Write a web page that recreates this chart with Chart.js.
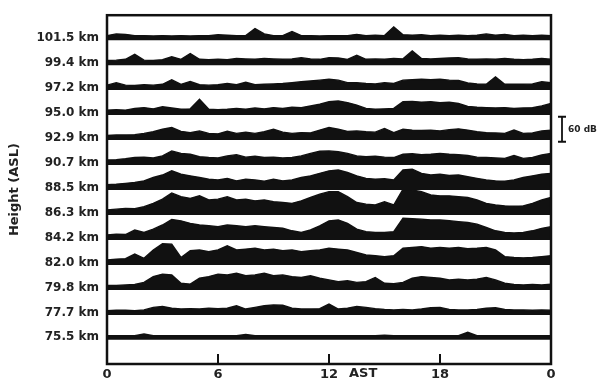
<!DOCTYPE html>
<html>
<head>
<meta charset="utf-8">
<script src="https://cdn.jsdelivr.net/npm/chart.js@4.4.1/dist/chart.umd.min.js"></script>
<style>
    body { margin: 0; background: #fff; }
    canvas { display: block; }
</style>
</head>
<body>
<canvas id="graficaEcos" width="616" height="382"></canvas>
<script>
"use strict";
/* Datos: horas (AST) y potencia de eco (dB sobre la línea base) */
const horas = [0, 0.5, 1, 1.5, 2, 2.5, 3, 3.5, 4, 4.5, 5, 5.5, 6, 6.5, 7, 7.5, 8, 8.5, 9, 9.5,
    10, 10.5, 11, 11.5, 12, 12.5, 13, 13.5, 14, 14.5, 15, 15.5, 16, 16.5, 17, 17.5, 18, 18.5, 19, 19.5,
    20, 20.5, 21, 21.5, 22, 22.5, 23, 23.5, 24];

const etiquetasAltura = ["101.5 km", "99.4 km", "97.2 km", "95.0 km", "92.9 km", "90.7 km", "88.5 km",
    "86.3 km", "84.2 km", "82.0 km", "79.8 km", "77.7 km", "75.5 km"];

const valoresHora = [0, 6, 12, 18, 24];
const etiquetasHora = ["0", "6", "12", "18", "0"];

const eco1015 = [5, 9, 8, 5, 5, 4, 5, 4, 5, 4, 5, 5, 7, 6, 5, 5, 22, 9, 5, 5, 15, 5, 5, 4, 5, 5, 5, 8, 5, 6, 5, 26, 7, 6, 7, 5, 6, 5, 6, 5, 6, 9, 6, 8, 5, 6, 5, 6, 5];
const eco994 = [5, 6, 8, 20, 6, 5, 7, 14, 8, 22, 8, 7, 8, 7, 10, 9, 8, 10, 9, 8, 9, 12, 9, 8, 12, 11, 8, 18, 8, 9, 8, 10, 9, 28, 10, 9, 10, 11, 12, 9, 8, 9, 8, 10, 8, 7, 8, 10, 8];
const eco972 = [6, 12, 6, 5, 7, 6, 8, 19, 8, 15, 7, 6, 7, 10, 7, 13, 7, 8, 9, 10, 12, 14, 16, 18, 20, 18, 12, 12, 10, 9, 12, 10, 18, 19, 20, 19, 20, 18, 17, 11, 9, 8, 26, 8, 8, 8, 9, 14, 12];
const eco950 = [6, 7, 6, 10, 12, 9, 14, 11, 8, 9, 32, 8, 7, 8, 10, 8, 11, 9, 12, 10, 13, 12, 16, 20, 26, 28, 24, 18, 10, 8, 9, 10, 26, 27, 25, 26, 24, 25, 22, 15, 13, 12, 11, 12, 10, 11, 12, 16, 22];
const eco929 = [5, 6, 6, 7, 10, 14, 20, 24, 15, 12, 16, 10, 9, 15, 10, 13, 10, 14, 20, 13, 10, 12, 11, 18, 24, 20, 15, 16, 14, 13, 22, 12, 20, 18, 17, 18, 16, 19, 21, 18, 14, 12, 11, 10, 18, 10, 11, 16, 18];
const eco907 = [6, 7, 9, 12, 13, 11, 16, 28, 22, 20, 14, 12, 11, 16, 19, 13, 15, 12, 13, 11, 12, 16, 22, 27, 28, 26, 22, 16, 14, 15, 13, 12, 20, 21, 19, 20, 22, 20, 19, 17, 13, 12, 11, 10, 17, 10, 12, 18, 22];
const eco885 = [7, 8, 10, 12, 16, 24, 30, 40, 32, 28, 24, 20, 18, 22, 16, 20, 18, 15, 20, 16, 18, 24, 28, 34, 40, 42, 36, 28, 22, 20, 21, 18, 42, 44, 34, 30, 32, 29, 30, 26, 22, 18, 16, 15, 18, 24, 28, 32, 34];
const eco863 = [6, 8, 10, 9, 14, 22, 32, 47, 38, 34, 40, 30, 32, 38, 30, 32, 28, 30, 26, 24, 22, 28, 36, 44, 50, 50, 38, 24, 20, 18, 26, 18, 56, 54, 50, 42, 40, 40, 38, 36, 30, 22, 18, 16, 15, 16, 22, 30, 36];
const eco842 = [6, 8, 7, 18, 12, 20, 30, 43, 40, 34, 30, 28, 26, 30, 28, 26, 28, 26, 24, 22, 16, 12, 18, 28, 40, 42, 34, 20, 14, 12, 12, 14, 46, 45, 44, 42, 42, 40, 38, 36, 32, 24, 16, 12, 11, 12, 16, 22, 26];
const eco820 = [6, 8, 9, 20, 10, 30, 45, 44, 12, 28, 30, 26, 30, 40, 30, 32, 34, 30, 32, 28, 30, 26, 28, 30, 34, 32, 30, 24, 18, 16, 14, 16, 34, 36, 38, 34, 36, 34, 36, 33, 34, 36, 30, 14, 12, 11, 12, 14, 16];
const eco798 = [5, 5, 6, 7, 12, 26, 32, 30, 10, 8, 22, 26, 32, 30, 34, 28, 30, 34, 28, 30, 26, 24, 28, 22, 18, 14, 16, 12, 14, 24, 10, 9, 12, 22, 26, 24, 22, 18, 20, 18, 20, 24, 18, 10, 7, 6, 7, 6, 8];
const eco777 = [4, 5, 5, 4, 6, 12, 14, 10, 8, 9, 8, 10, 9, 10, 16, 8, 12, 16, 18, 17, 10, 8, 8, 9, 20, 8, 10, 14, 12, 9, 7, 6, 7, 6, 8, 11, 12, 7, 6, 6, 7, 10, 11, 7, 6, 6, 5, 6, 5];
const eco755 = [4, 4, 4, 4, 8, 4, 4, 4, 4, 4, 4, 4, 4, 4, 4, 7, 4, 4, 4, 4, 4, 4, 4, 4, 4, 4, 4, 4, 4, 4, 5, 4, 4, 4, 4, 4, 4, 4, 4, 12, 4, 4, 4, 4, 4, 4, 4, 4, 4];

const series = [eco1015, eco994, eco972, eco950, eco929, eco907, eco885, eco863, eco842, eco820, eco798, eco777, eco755];

/* Separación entre trazas: 60 dB */
const PASO = 60;
const TINTA = "#111";

function lineaBase(i) {
    return (series.length - 1 - i) * PASO;
}

/* Construir los datasets, uno por altura */
function construirDatasets() {
    return series.map((valores, i) => {
        const base = lineaBase(i);
        return {
            label: etiquetasAltura[i],
            data: valores.map((v, j) => ({ x: horas[j], y: base + v })),
            borderColor: TINTA,
            backgroundColor: TINTA,
            borderWidth: 1.4,
            pointRadius: 0,
            tension: 0,
            fill: { value: base - 6 }
        };
    });
}

/* Marco, marcas interiores, "AST" y barra de escala */
const decoracion = {
    id: "decoracion",
    afterDatasetsDraw(chart) {
        const ctx = chart.ctx;
        const area = chart.chartArea;
        const x = chart.scales.x;
        const y = chart.scales.y;

        ctx.save();
        ctx.strokeStyle = TINTA;
        ctx.lineWidth = 2.5;
        ctx.strokeRect(area.left, area.top, area.right - area.left, area.bottom - area.top);

        ctx.lineWidth = 2;
        [6, 12, 18].forEach(h => {
            const px = x.getPixelForValue(h);
            ctx.beginPath();
            ctx.moveTo(px, area.bottom);
            ctx.lineTo(px, area.bottom - 10);
            ctx.stroke();
        });

        ctx.fillStyle = "#222";
        ctx.font = "bold 13px 'DejaVu Sans'";
        ctx.textAlign = "left";
        ctx.textBaseline = "middle";
        ctx.fillText("AST", x.getPixelForValue(12) + 20, 374);

        /* Barra de 60 dB */
        const bx = area.right + 11;
        const y1 = y.getPixelForValue(470);
        const y2 = y.getPixelForValue(470 + PASO);
        ctx.lineWidth = 1.8;
        ctx.beginPath();
        ctx.moveTo(bx, y1);
        ctx.lineTo(bx, y2);
        ctx.moveTo(bx - 4, y1);
        ctx.lineTo(bx + 4, y1);
        ctx.moveTo(bx - 4, y2);
        ctx.lineTo(bx + 4, y2);
        ctx.stroke();
        ctx.font = "bold 9px 'DejaVu Sans'";
        ctx.fillText("60 dB", bx + 6, (y1 + y2) / 2);
        ctx.restore();
    }
};

/* Inicializar gráfica con Chart.js */
function inicializarGrafica() {
    const canvas = document.getElementById("graficaEcos");

    new Chart(canvas, {
        type: "line",
        data: { datasets: construirDatasets() },
        options: {
            responsive: false,
            animation: false,
            layout: { padding: { top: 10, right: 65, left: 0, bottom: 0 } },
            plugins: {
                legend: { display: false },
                tooltip: { enabled: false }
            },
            scales: {
                x: {
                    type: "linear",
                    min: 0,
                    max: 24,
                    grid: { display: false, drawTicks: false },
                    border: { display: false },
                    afterBuildTicks: scale => {
                        scale.ticks = valoresHora.map(v => ({ value: v }));
                    },
                    afterFit: scale => { scale.height = 18; },
                    ticks: {
                        autoSkip: false,
                        maxRotation: 0,
                        padding: 3,
                        color: "#222",
                        font: { family: "DejaVu Sans", size: 13, weight: "bold" },
                        callback: (value, index) => etiquetasHora[index]
                    }
                },
                y: {
                    type: "linear",
                    min: -64,
                    max: 774,
                    grid: { display: false, drawTicks: false },
                    border: { display: false },
                    afterBuildTicks: scale => {
                        scale.ticks = etiquetasAltura.map((_, i) => ({ value: lineaBase(i) }));
                    },
                    afterFit: scale => { scale.width = 107; },
                    ticks: {
                        autoSkip: false,
                        padding: 8,
                        color: "#222",
                        font: { family: "DejaVu Sans", size: 12, weight: "bold" },
                        callback: value => etiquetasAltura[series.length - 1 - value / PASO]
                    },
                    title: {
                        display: true,
                        text: "Height (ASL)",
                        color: "#222",
                        padding: { top: 7, bottom: 0 },
                        font: { family: "DejaVu Sans", size: 13, weight: "bold" }
                    }
                }
            }
        },
        plugins: [decoracion]
    });
}

/* Ejecutar al cargar la página */
document.addEventListener("DOMContentLoaded", inicializarGrafica);
</script>
</body>
</html>
